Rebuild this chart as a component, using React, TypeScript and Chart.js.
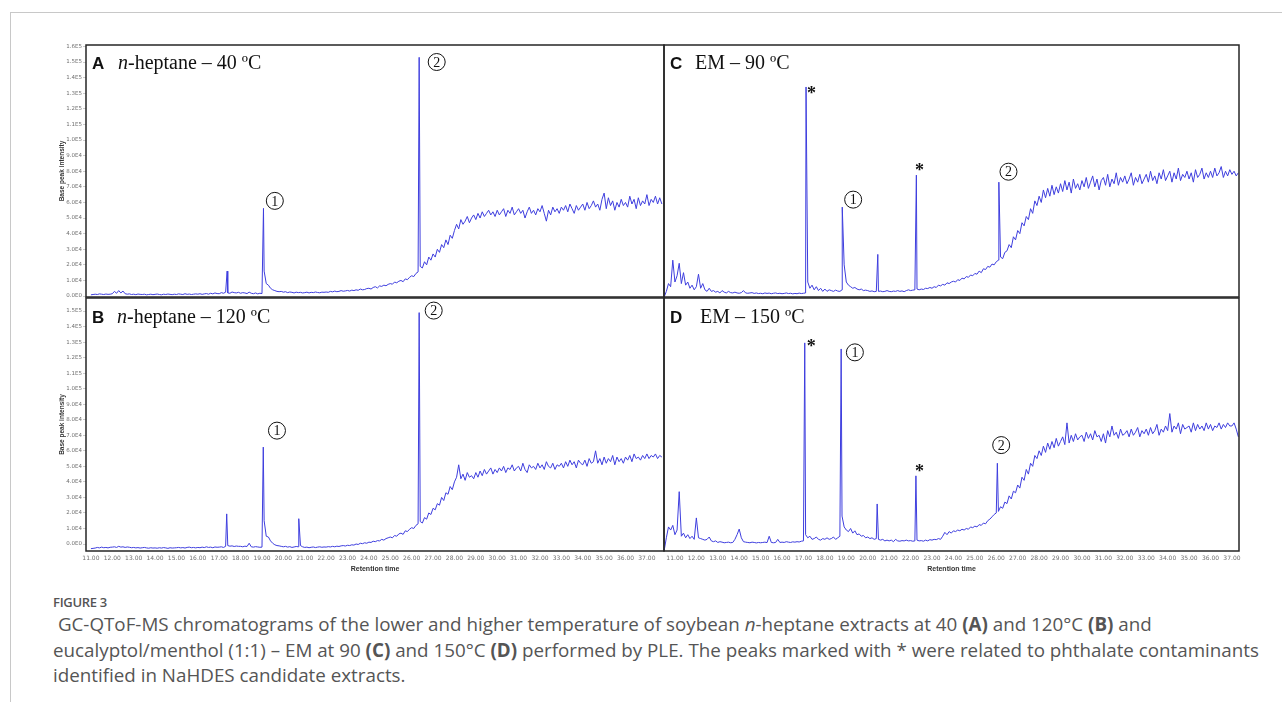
import React, { useEffect, useRef } from "react";
import { Chart, registerables } from "chart.js";
Chart.register(...registerables);

// ---------------- DATA ----------------
// sampled retention-time grid step (min)
const SAMPLE_STEP = 0.1;

const X_TICKS = [11, 12, 13, 14, 15, 16, 17, 18, 19, 20, 21, 22, 23, 24, 25, 26, 27, 28, 29, 30, 31, 32, 33, 34, 35, 36, 37];
const X_TICK_LABELS = ["11.00", "12.00", "13.00", "14.00", "15.00", "16.00", "17.00", "18.00", "19.00", "20.00", "21.00", "22.00", "23.00", "24.00", "25.00", "26.00", "27.00", "28.00", "29.00", "30.00", "31.00", "32.00", "33.00", "34.00", "35.00", "36.00", "37.00"];

// intensity in units of 1E4
const Y_TICKS_A = [0, 1, 2, 3, 4, 5, 6, 7, 8, 9, 10, 11, 12, 13, 14, 15, 16];
const Y_TICK_LABELS_A = ["0.0E0", "1.0E4", "2.0E4", "3.0E4", "4.0E4", "5.0E4", "6.0E4", "7.0E4", "8.0E4", "9.0E4", "1.0E5", "1.1E5", "1.2E5", "1.3E5", "1.4E5", "1.5E5", "1.6E5"];
const Y_TICKS_B = [0, 1, 2, 3, 4, 5, 6, 7, 8, 9, 10, 11, 12, 13, 14, 15];
const Y_TICK_LABELS_B = ["0.0E0", "1.0E4", "2.0E4", "3.0E4", "4.0E4", "5.0E4", "6.0E4", "7.0E4", "8.0E4", "9.0E4", "1.0E5", "1.1E5", "1.2E5", "1.3E5", "1.4E5", "1.5E5"];

// A: n-heptane 40 ºC, baseline from 11.0 min
const A_START = 11.0;
const A_BASE = [
  0.08, 0.10, 0.12, 0.10, 0.14, 0.12, 0.10, 0.13, 0.11, 0.12,
  0.15, 0.30, 0.18, 0.35, 0.20, 0.32, 0.15, 0.12, 0.14, 0.10,
  0.12, 0.09, 0.13, 0.11, 0.10, 0.12, 0.08, 0.10, 0.12, 0.09,
  0.11, 0.13, 0.10, 0.08, 0.12, 0.10, 0.13, 0.11, 0.09, 0.12,
  0.10, 0.14, 0.12, 0.10, 0.15, 0.11, 0.13, 0.10, 0.12, 0.14,
  0.12, 0.15, 0.11, 0.14, 0.16, 0.12, 0.18, 0.14, 0.20, 0.16,
  0.15, 0.22, 0.18, 0.25, 0.20, 0.18, 0.26, 0.22, 0.20, 0.24,
  0.18, 0.22, 0.20, 0.16, 0.25, 0.18, 0.15, 0.20, 0.14, 0.18,
  0.16, 1.60, 0.80, 0.70, 0.50, 0.40, 0.35, 0.30, 0.28, 0.30,
  0.25, 0.28, 0.22, 0.26, 0.24, 0.20, 0.25, 0.22, 0.24, 0.20,
  0.22, 0.25, 0.20, 0.24, 0.22, 0.26, 0.23, 0.21, 0.25, 0.24,
  0.26, 0.24, 0.30, 0.27, 0.32, 0.28, 0.30, 0.35, 0.31, 0.33,
  0.36, 0.32, 0.38, 0.35, 0.40, 0.37, 0.45, 0.40, 0.42, 0.48,
  0.50, 0.45, 0.55, 0.60, 0.52, 0.65, 0.62, 0.70, 0.66, 0.75,
  0.80, 0.76, 0.90, 0.85, 0.95, 1.00, 0.92, 1.10, 1.05, 1.20,
  1.30, 1.25, 1.45, 1.55, 1.90, 1.80, 2.20, 2.00, 2.50, 2.30,
  2.70, 2.50, 3.00, 2.80, 3.30, 3.10, 3.60, 3.30, 3.90, 3.70,
  4.20, 4.60, 4.30, 4.90, 4.60, 4.80, 5.10, 4.70, 5.00, 5.20,
  4.90, 5.30, 5.00, 5.40, 5.10, 5.30, 5.50, 5.20, 5.40, 5.10,
  5.50, 5.20, 5.40, 5.60, 5.10, 5.50, 5.30, 5.70, 5.20, 5.40,
  5.60, 5.30, 5.50, 5.00, 5.40, 5.70, 5.30, 5.50, 5.20, 5.60,
  5.40, 5.80, 5.30, 4.80, 5.50, 5.20, 5.70, 5.40, 5.60, 5.30,
  5.70, 5.50, 5.80, 5.40, 5.90, 5.60, 5.30, 5.80, 5.50, 5.70,
  5.90, 5.50, 6.00, 5.60, 5.80, 6.10, 5.70, 5.90, 5.50, 6.20,
  6.60, 5.60, 6.30, 5.80, 6.10, 5.50, 6.00, 5.70, 6.20, 5.80,
  6.00, 5.70, 6.40, 5.90, 6.20, 5.60, 6.30, 5.80, 6.10, 5.90,
  6.50, 5.80, 6.20, 6.00, 6.40, 5.90, 6.30, 5.90,
];
const A_PEAKS = [[17.37, 1.6], [19.07, 5.62], [26.35, 15.3]];

// B: n-heptane 120 ºC
const B_START = 11.0;
const B_BASE = [
  -0.30, -0.28, -0.26, -0.22, -0.25, -0.20, -0.24, -0.22, -0.25, -0.21,
  -0.20, -0.18, -0.22, -0.15, -0.20, -0.18, -0.22, -0.19, -0.21, -0.24,
  -0.22, -0.25, -0.23, -0.26, -0.24, -0.22, -0.25, -0.27, -0.24, -0.26,
  -0.25, -0.27, -0.24, -0.26, -0.23, -0.25, -0.28, -0.24, -0.26, -0.25,
  -0.24, -0.22, -0.25, -0.23, -0.26, -0.22, -0.20, -0.24, -0.22, -0.25,
  -0.22, -0.24, -0.20, -0.23, -0.18, -0.22, -0.20, -0.24, -0.19, -0.21,
  -0.20, -0.18, -0.22, -0.15, -0.10, -0.14, -0.12, -0.16, -0.13, -0.15,
  -0.15, -0.18, -0.14, -0.16, 0.05, -0.18, -0.20, -0.17, -0.19, -0.21,
  -0.20, 1.50, 0.50, 0.45, 0.20, 0.05, -0.05, -0.10, -0.12, -0.15,
  -0.18, -0.15, -0.20, -0.17, -0.22, -0.19, -0.16, -0.18, -0.10, -0.18,
  -0.22, -0.20, -0.24, -0.21, -0.19, -0.23, -0.20, -0.18, -0.21, -0.19,
  -0.20, -0.17, -0.19, -0.15, -0.18, -0.14, -0.16, -0.12, -0.10, -0.13,
  -0.08, -0.10, -0.05, -0.07, 0.00, -0.03, 0.05, 0.02, 0.08, 0.05,
  0.12, 0.10, 0.18, 0.15, 0.22, 0.20, 0.30, 0.25, 0.35, 0.40,
  0.45, 0.40, 0.55, 0.50, 0.65, 0.70, 0.62, 0.85, 0.80, 0.95,
  1.05, 1.00, 1.20, 1.30, 1.45, 1.35, 1.70, 1.60, 2.00, 1.90,
  2.30, 2.20, 2.60, 2.50, 3.00, 2.80, 3.30, 3.20, 3.70, 3.50,
  4.00, 4.30, 5.10, 4.20, 4.50, 4.10, 4.60, 4.30, 4.40, 4.20,
  4.60, 4.30, 4.70, 4.40, 4.80, 4.50, 4.70, 4.90, 4.50, 4.80,
  4.60, 4.90, 4.70, 5.00, 4.60, 4.90, 4.80, 5.10, 4.70, 4.90,
  5.00, 4.70, 5.20, 4.80, 4.60, 5.10, 4.90, 5.00, 4.80, 5.20,
  4.90, 5.10, 4.80, 5.30, 5.00, 4.90, 5.20, 4.80, 5.10, 5.00,
  5.20, 4.90, 5.30, 5.00, 5.40, 5.10, 5.30, 4.90, 5.40, 5.20,
  5.10, 5.40, 5.00, 5.50, 5.20, 5.30, 6.00, 5.20, 5.50, 5.10,
  5.60, 5.20, 5.50, 5.30, 5.70, 5.10, 5.60, 5.30, 5.50, 5.20,
  5.60, 5.40, 5.70, 5.30, 5.80, 5.50, 5.60, 5.40, 5.70, 5.50,
  5.80, 5.50, 5.70, 5.60, 5.80, 5.50, 5.70, 5.60,
];
const B_PEAKS = [[17.35, 1.94], [19.06, 6.24], [20.72, 1.63], [26.35, 14.9]];

// C: EM 90 ºC, baseline from 10.5 min
const C_START = 10.5;
const C_BASE = [
  -0.05, 0.30, 0.80, 0.60, 2.30,
  0.90, 1.30, 2.10, 0.80, 1.50, 0.70, 0.90, 0.50, 0.70, 0.40,
  0.60, 1.40, 0.50, 0.80, 0.40, 0.30, 0.50, 0.30, 0.35, 0.25,
  0.30, 0.20, 0.35, 0.25, 0.20, 0.30, 0.22, 0.20, 0.25, 0.20,
  0.18, 0.22, 0.35, 0.20, 0.18, 0.20, 0.22, 0.17, 0.20, 0.16,
  0.18, 0.15, 0.20, 0.17, 0.19, 0.15, 0.18, 0.20, 0.16, 0.18,
  0.15, 0.17, 0.20, 0.16, 0.18, 0.14, 0.17, 0.15, 0.19, 0.16,
  0.18, 0.20, 0.90, 0.50, 0.70, 0.40, 0.60, 0.35, 0.50, 0.30,
  0.45, 0.30, 0.40, 0.35, 0.30, 0.38, 0.32, 0.30, 0.40, 2.00,
  0.90, 0.70, 0.60, 0.50, 0.55, 0.45, 0.40, 0.45, 0.35, 0.38,
  0.35, 0.30, 0.33, 0.28, 0.30, 0.30, 0.32, 0.28, 0.30, 0.35,
  0.30, 0.28, 0.32, 0.30, 0.35, 0.30, 0.33, 0.28, 0.35, 0.40,
  0.35, 0.38, 0.40, 0.45, 0.40, 0.45, 0.42, 0.50, 0.48, 0.55,
  0.50, 0.60, 0.55, 0.70, 0.65, 0.75, 0.70, 0.85, 0.80, 0.90,
  0.95, 0.90, 1.05, 1.00, 1.15, 1.10, 1.25, 1.20, 1.35, 1.30,
  1.45, 1.40, 1.60, 1.50, 1.75, 1.70, 1.90, 1.85, 2.05, 2.00,
  2.20, 2.30, 2.50, 2.40, 2.80, 2.90, 3.30, 3.10, 3.80, 3.60,
  4.20, 4.00, 4.70, 4.50, 5.10, 4.90, 5.60, 5.30, 6.10, 5.80,
  6.40, 6.00, 6.80, 6.30, 6.90, 6.40, 7.10, 6.50, 7.00, 6.60,
  7.20, 6.70, 7.40, 6.80, 7.30, 6.60, 7.50, 6.90, 7.20, 6.80,
  7.40, 7.00, 7.60, 6.90, 7.30, 7.70, 7.00, 7.50, 6.80, 7.40,
  7.60, 7.10, 7.80, 7.00, 7.50, 7.20, 7.90, 7.10, 7.60, 7.30,
  7.70, 7.20, 7.50, 7.90, 7.10, 7.60, 7.30, 7.80, 7.20, 7.50,
  7.80, 7.30, 8.00, 7.40, 7.70, 7.20, 7.90, 7.50, 8.10, 7.40,
  7.70, 8.00, 7.30, 7.90, 7.50, 8.20, 7.40, 7.80, 7.60, 8.00,
  7.50, 7.90, 7.30, 8.10, 7.60, 7.80, 8.20, 7.50, 7.90, 7.60,
  8.00, 7.60, 8.20, 7.70, 7.90, 8.30, 7.60, 8.00, 7.70, 8.10,
  7.80, 8.00, 7.70, 7.90,
];
const C_PEAKS = [[17.12, 13.4], [18.81, 5.7], [20.47, 2.67], [22.27, 7.75], [26.12, 7.3]];

// D: EM 150 ºC
const D_START = 10.5;
const D_BASE = [
  -0.40, 0.40, 1.10, 0.90, 1.20,
  0.60, 0.90, 3.37, 0.50, 0.70, 0.40, 0.60, 0.35, 0.50, 0.30,
  1.68, 0.40, 0.35, 0.30, 0.25, 0.30, 0.45, 0.20, 0.15, 0.20,
  0.10, 0.15, 0.12, 0.08, 0.10, 0.12, 0.08, 0.10, 0.30, 0.60,
  0.96, 0.40, 0.15, 0.12, 0.10, 0.08, 0.12, 0.10, 0.07, 0.10,
  0.08, 0.10, 0.12, 0.09, 0.50, 0.10, 0.08, 0.10, 0.30, 0.10,
  0.12, 0.10, 0.15, 0.12, 0.10, 0.14, 0.12, 0.15, 0.13, 0.18,
  0.20, 0.60, 0.40, 0.50, 0.30, 0.35, 0.45, 0.30, 0.25, 0.35,
  0.30, 0.40, 0.30, 0.35, 0.45, 0.30, 0.40, 0.50, 1.80, 1.10,
  0.90, 0.80, 1.00, 0.70, 0.85, 0.60, 0.65, 0.50, 0.55, 0.40,
  0.45, 0.35, 0.40, 0.30, 0.35, 0.30, 0.25, 0.30, 0.20, 0.25,
  0.20, 0.25, 0.15, 0.30, 0.20, 0.18, 0.22, 0.20, 0.25, 0.20,
  0.22, 0.18, 0.20, 0.25, 0.20, 0.22, 0.18, 0.25, 0.20, 0.28,
  0.25, 0.30, 0.28, 0.35, 0.30, 0.50, 0.75, 0.60, 0.80, 0.70,
  0.85, 0.80, 0.90, 0.85, 0.95, 0.90, 1.00, 0.95, 1.10, 1.05,
  1.15, 1.10, 1.25, 1.20, 1.35, 1.30, 1.50, 1.60, 1.75, 1.90,
  2.00, 2.10, 2.40, 2.30, 2.70, 2.60, 3.10, 2.90, 3.40, 3.30,
  3.80, 3.60, 4.30, 4.10, 4.80, 4.50, 5.20, 5.00, 5.70, 5.50,
  6.00, 5.70, 6.30, 5.90, 6.50, 6.10, 6.60, 6.20, 6.80, 6.30,
  6.60, 6.90, 6.40, 7.80, 6.50, 7.00, 6.60, 7.10, 6.70, 6.90,
  7.00, 6.60, 7.20, 6.80, 7.10, 6.70, 7.30, 6.90, 7.00, 6.60,
  7.10, 6.50, 7.30, 6.90, 7.60, 7.00, 7.20, 6.80, 7.40, 7.00,
  7.10, 7.30, 6.90, 7.40, 7.00, 7.20, 7.50, 6.90, 7.30, 7.10,
  7.40, 7.00, 7.50, 7.10, 7.30, 7.70, 7.00, 7.40, 7.20, 7.60,
  7.30, 8.40, 7.20, 7.60, 7.40, 7.80, 7.10, 7.70, 7.40, 7.50,
  7.60, 7.20, 7.80, 7.30, 7.70, 7.40, 7.60, 7.30, 7.80, 7.40,
  7.70, 7.30, 7.60, 7.50, 7.80, 7.40, 7.70, 7.50, 7.80, 7.60,
  7.60, 7.80, 7.40, 6.90,
];
const D_PEAKS = [[17.06, 12.95], [18.76, 12.56], [20.44, 2.58], [22.25, 4.39], [26.05, 5.2]];

// peak labels: [time, intensity, kind, label]
const A_MARKS: [number, number, string, string][] = [[19.6, 6.1, "circle", "1"], [27.17, 15.0, "circle", "2"]];
const B_MARKS: [number, number, string, string][] = [[19.7, 7.3, "circle", "1"], [27.03, 15.03, "circle", "2"]];
const C_MARKS: [number, number, string, string][] = [[17.37, 13.2, "star", "*"], [19.32, 6.18, "circle", "1"], [22.42, 8.25, "star", "*"], [26.57, 7.97, "circle", "2"]];
const D_MARKS: [number, number, string, string][] = [[17.36, 12.95, "star", "*"], [19.4, 12.34, "circle", "1"], [22.42, 4.88, "star", "*"], [26.23, 6.37, "circle", "2"]];

const Y_TITLE = "Base peak intensity";
const X_TITLE = "Retention time";

// ---------------- RENDERING ----------------
type TitlePart = { text: string; italic?: boolean };
interface PanelCfg {
  id: string;
  box: { l: number; t: number; r: number; b: number };
  xMin: number; xMax: number; yMin: number; yMax: number;
  showX: boolean; showY: boolean;
  start: number; base: number[]; peaks: number[][];
  yTicks: number[]; yTickLabels: string[];
  letter: string; title: TitlePart[]; titleOffset: number; titleDy: number;
  marks: [number, number, string, string][];
}

function buildSeries(start: number, base: number[], peaks: number[][]) {
  const pts = base.map((v, i) => ({ x: Math.round((start + i * SAMPLE_STEP) * 100) / 100, y: v }));
  for (const [t, h] of peaks) pts.push({ x: t, y: h });
  pts.sort((a, b) => a.x - b.x);
  return pts;
}

const LINE_COLOR = "rgb(62,62,222)";
const TICK_FONT = "DejaVu Sans";

function Panel({ cfg }: { cfg: PanelCfg }) {
  const ref = useRef<HTMLCanvasElement>(null);
  const yW = cfg.showY ? 28 : 0;
  const padL = cfg.showY ? 0 : 2;
  const padR = 8;
  const xH = cfg.showX ? 26 : 0;
  const padB = cfg.showX ? 0 : 2;
  const left = cfg.box.l - yW - padL;
  const top = cfg.box.t - 2;
  const width = cfg.box.r - cfg.box.l + yW + padL + padR;
  const height = cfg.box.b - cfg.box.t + 2 + xH + padB;

  useEffect(() => {
    const deco = {
      id: "deco",
      afterDatasetsDraw(chart: any) {
        const { ctx, chartArea: a, scales } = chart;
        ctx.save();
        ctx.strokeStyle = "#262626";
        ctx.lineWidth = 1.5;
        ctx.strokeRect(a.left, a.top, a.right - a.left, a.bottom - a.top);
        ctx.fillStyle = "#111";
        ctx.textAlign = "left";
        ctx.textBaseline = "alphabetic";
        ctx.font = 'bold 17px "Liberation Sans"';
        ctx.fillText(cfg.letter, a.left + 6, a.top + cfg.titleDy);
        let x = a.left + cfg.titleOffset;
        for (const p of cfg.title) {
          ctx.font = (p.italic ? "italic " : "") + '20px "Liberation Serif"';
          ctx.fillText(p.text, x, a.top + cfg.titleDy);
          x += ctx.measureText(p.text).width;
        }
        for (const [t, v, kind, label] of cfg.marks) {
          const px = scales.x.getPixelForValue(t);
          const py = scales.y.getPixelForValue(v);
          if (kind === "circle") {
            ctx.beginPath();
            ctx.arc(px, py, 8.5, 0, Math.PI * 2);
            ctx.lineWidth = 1;
            ctx.strokeStyle = "#111";
            ctx.stroke();
            ctx.font = '14px "Liberation Serif"';
            ctx.textAlign = "center";
            ctx.textBaseline = "middle";
            ctx.fillText(label, px, py + 1);
          } else {
            ctx.font = 'bold 18px "Liberation Serif"';
            ctx.textAlign = "center";
            ctx.textBaseline = "alphabetic";
            ctx.fillText(label, px, py + 9);
          }
        }
        ctx.restore();
      },
    };

    const chart = new Chart(ref.current as HTMLCanvasElement, {
      type: "line",
      data: {
        datasets: [
          {
            data: buildSeries(cfg.start, cfg.base, cfg.peaks),
            borderColor: LINE_COLOR,
            borderWidth: 1,
            pointRadius: 0,
            tension: 0,
            fill: false,
          },
        ],
      },
      options: {
        animation: false,
        responsive: false,
        devicePixelRatio: 1,
        events: [],
        layout: { padding: { top: 2, right: padR, bottom: padB, left: padL } },
        plugins: { legend: { display: false }, tooltip: { enabled: false } },
        scales: {
          x: {
            type: "linear",
            min: cfg.xMin,
            max: cfg.xMax,
            display: cfg.showX,
            afterBuildTicks: (s: any) => { s.ticks = X_TICKS.map((v) => ({ value: v })); },
            afterFit: (s: any) => { s.height = xH; s.paddingLeft = 0; s.paddingRight = 0; },
            ticks: {
              autoSkip: false,
              maxRotation: 0,
              padding: 4,
              color: "#707070",
              font: { family: TICK_FONT, size: 6 },
              callback: (_v: any, i: number) => X_TICK_LABELS[i],
            },
            grid: { display: false, drawTicks: false },
            border: { display: false },
            title: {
              display: true,
              text: X_TITLE,
              color: "#333",
              font: { family: "Liberation Sans", size: 7, weight: "bold" },
              padding: { top: 0, bottom: 4 },
            },
          },
          y: {
            type: "linear",
            min: cfg.yMin,
            max: cfg.yMax,
            display: cfg.showY,
            afterBuildTicks: (s: any) => { s.ticks = cfg.yTicks.map((v) => ({ value: v })); },
            afterFit: (s: any) => { s.width = yW; s.paddingTop = 0; s.paddingBottom = 0; },
            ticks: {
              autoSkip: false,
              padding: 1,
              color: "#707070",
              font: { family: TICK_FONT, size: 5.5 },
              callback: (_v: any, i: number) => cfg.yTickLabels[i],
            },
            grid: { display: true, drawOnChartArea: false, drawTicks: true, tickLength: 3, color: "#aaa", lineWidth: 0.6 },
            border: { display: false },
            title: {
              display: true,
              text: Y_TITLE,
              color: "#333",
              font: { family: "Liberation Sans", size: 6.5, weight: "bold" },
              padding: 0,
            },
          },
        },
      },
      plugins: [deco],
    } as any);
    return () => chart.destroy();
  }, []);

  return (
    <canvas
      ref={ref}
      width={width}
      height={height}
      style={{ position: "absolute", left, top, width, height }}
    />
  );
}

const PANELS: PanelCfg[] = [
  {
    id: "A", box: { l: 86, t: 45, r: 664, b: 297 },
    xMin: 10.77, xMax: 37.8, yMin: -0.06, yMax: 16.09, showX: false, showY: true,
    start: A_START, base: A_BASE, peaks: A_PEAKS, yTicks: Y_TICKS_A, yTickLabels: Y_TICK_LABELS_A,
    letter: "A", title: [{ text: "n", italic: true }, { text: "-heptane – 40 ºC" }], titleOffset: 32, titleDy: 24, marks: A_MARKS,
  },
  {
    id: "B", box: { l: 86, t: 298, r: 664, b: 551 },
    xMin: 10.77, xMax: 37.8, yMin: -0.45, yMax: 15.84, showX: true, showY: true,
    start: B_START, base: B_BASE, peaks: B_PEAKS, yTicks: Y_TICKS_B, yTickLabels: Y_TICK_LABELS_B,
    letter: "B", title: [{ text: "n", italic: true }, { text: "-heptane – 120 ºC" }], titleOffset: 31, titleDy: 25, marks: B_MARKS,
  },
  {
    id: "C", box: { l: 664, t: 45, r: 1239, b: 297 },
    xMin: 10.49, xMax: 37.33, yMin: -0.06, yMax: 16.09, showX: false, showY: false,
    start: C_START, base: C_BASE, peaks: C_PEAKS, yTicks: Y_TICKS_A, yTickLabels: Y_TICK_LABELS_A,
    letter: "C", title: [{ text: "EM – 90 ºC" }], titleOffset: 31, titleDy: 24, marks: C_MARKS,
  },
  {
    id: "D", box: { l: 664, t: 298, r: 1239, b: 551 },
    xMin: 10.49, xMax: 37.33, yMin: -0.45, yMax: 15.84, showX: true, showY: false,
    start: D_START, base: D_BASE, peaks: D_PEAKS, yTicks: Y_TICKS_B, yTickLabels: Y_TICK_LABELS_B,
    letter: "D", title: [{ text: "EM – 150 ºC" }], titleOffset: 36, titleDy: 25, marks: D_MARKS,
  },
];

export default function App() {
  const capFont = '"Open Sans", "Noto Sans", sans-serif';
  return (
    <div style={{ position: "absolute", left: 0, top: 0, width: 1282, height: 702, background: "#fff", overflow: "hidden" }}>
      <div style={{ position: "absolute", left: 10, top: 12, right: -2, bottom: -2, borderTop: "1px solid #c8c8c8", borderLeft: "1px solid #c8c8c8" }} />
      {PANELS.map((p) => (
        <Panel key={p.id} cfg={p} />
      ))}
      <div style={{ position: "absolute", left: 53, top: 594, fontFamily: capFont, fontSize: 13, fontWeight: 600, letterSpacing: -0.3, lineHeight: "16px", color: "#555", whiteSpace: "nowrap" }}>
        FIGURE 3
      </div>
      <div style={{ position: "absolute", left: 53, top: 612, fontFamily: capFont, fontSize: 18.8, lineHeight: "25.5px", color: "#555", whiteSpace: "nowrap" }}>
        {"\u00a0GC-QToF-MS chromatograms of the lower and higher temperature of soybean "}<i>n</i>{"-heptane extracts at 40 "}<b>(A)</b>{" and 120°C "}<b>(B)</b>{" and"}
        <br />
        {"eucalyptol/menthol (1:1) – EM at 90 "}<b>(C)</b>{" and 150°C "}<b>(D)</b>{" performed by PLE. The peaks marked with * were related to phthalate contaminants"}
        <br />
        {"identified in NaHDES candidate extracts."}
      </div>
    </div>
  );
}
